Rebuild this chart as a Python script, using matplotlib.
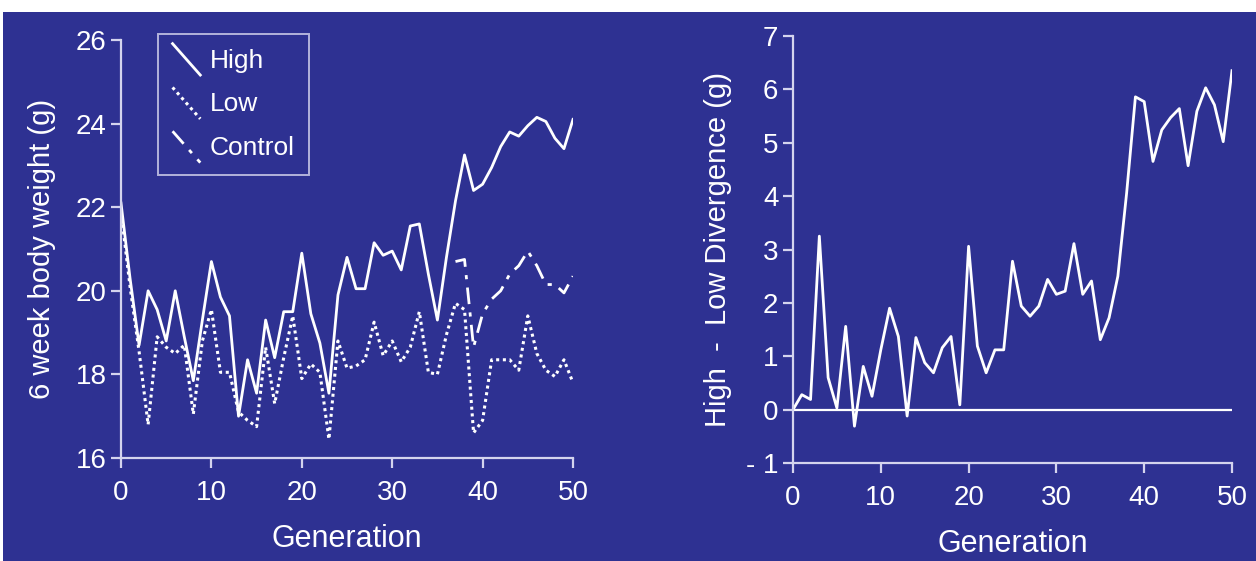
import numpy as np
import matplotlib
matplotlib.use('Agg')
import matplotlib.pyplot as plt
from matplotlib.legend_handler import HandlerBase
from matplotlib.lines import Line2D
from matplotlib.patches import Rectangle

plt.rcParams['font.family'] = ['Liberation Sans', 'DejaVu Sans']

# data
gen = list(range(51))
high = [22.1, 20.3, 18.7, 20.0, 19.55, 18.8, 20.0, 18.9, 17.85, 19.3,
        20.7, 19.85, 19.4, 17.0, 18.35, 17.55, 19.3, 18.4, 19.5, 19.5,
        20.9, 19.45, 18.75, 17.55, 19.9, 20.8, 20.05, 20.05, 21.15, 20.85,
        20.95, 20.5, 21.55, 21.6, 20.4, 19.3, 20.8, 22.15, 23.25, 22.4,
        22.55, 22.95, 23.45, 23.8, 23.7, 23.95, 24.15, 24.05, 23.65, 23.4,
        24.1]
low = [21.9, 20.1, 18.55, 16.8, 18.9, 18.65, 18.5, 18.7, 17.05, 18.8,
       19.55, 18.05, 18.05, 17.1, 16.9, 16.75, 18.65, 17.3, 18.4, 19.4,
       17.9, 18.25, 18.05, 16.45, 18.8, 18.15, 18.2, 18.35, 19.25, 18.45,
       18.8, 18.3, 18.65, 19.5, 18.05, 18.0, 18.95, 19.7, 19.55, 16.6,
       16.9, 18.35, 18.35, 18.35, 18.1, 19.4, 18.5, 18.1, 17.95, 18.35,
       17.8]
ctrl_gen = list(range(37, 51))
control = [20.7, 20.75, 18.65, 19.45, 19.8, 20.0, 20.4, 20.6, 20.95, 20.6,
           20.15, 20.15, 19.95, 20.35]
divergence = [0.0, 0.28, 0.19, 3.25, 0.6, 0.03, 1.56, -0.31, 0.81, 0.25,
              1.12, 1.9, 1.37, -0.12, 1.35, 0.88, 0.69, 1.16, 1.37, 0.09,
              3.06, 1.19, 0.69, 1.12, 1.12, 2.78, 1.94, 1.75, 1.94, 2.44,
              2.16, 2.22, 3.11, 2.16, 2.41, 1.31, 1.72, 2.5, 4.06, 5.86,
              5.77, 4.65, 5.24, 5.47, 5.64, 4.57, 5.59, 6.03, 5.71, 5.02,
              6.35]
left_yticks = [16, 18, 20, 22, 24, 26]
right_yticks = [-1, 0, 1, 2, 3, 4, 5, 6, 7]
right_ylabels = ['- 1', '0', '1', '2', '3', '4', '5', '6', '7']
xticks = [0, 10, 20, 30, 40, 50]

navy = '#2e3192'
spine = '#d4d4ee'


class DiagHandler(HandlerBase):
    # legend key drawn as a short diagonal stroke
    def create_artists(self, legend, orig, xd, yd, w, h, fontsize, trans):
        ln = Line2D([0, 1], [0, 1])
        ln.update_from(orig)
        ln.set_data([xd, xd + w], [yd + h * 1.3, yd - h * 0.4])
        ln.set_transform(trans)
        return [ln]


fig = plt.figure(figsize=(12.56, 5.61), dpi=100, facecolor='white')
fig.patches.append(Rectangle((3 / 1256, 0), 1, (561 - 12) / 561,
                             transform=fig.transFigure, facecolor=navy,
                             edgecolor='none', zorder=-10))

ax1 = fig.add_axes([121 / 1256, 103 / 561, 452 / 1256, 418 / 561])
ax2 = fig.add_axes([793 / 1256, 98 / 561, 439 / 1256, 427 / 561])

for ax in (ax1, ax2):
    ax.set_facecolor(navy)
    ax.patch.set_alpha(0)
    for s in ('top', 'right'):
        ax.spines[s].set_visible(False)
    for s in ('left', 'bottom'):
        ax.spines[s].set_color(spine)
        ax.spines[s].set_linewidth(1.6)
    ax.tick_params(colors=spine, labelcolor='white', labelsize=20,
                   length=7, width=1.6, direction='out')
    ax.tick_params(axis='x', pad=9)
    ax.set_xlim(0, 50)
    ax.set_xticks(xticks)
    ax.set_xlabel('Generation', color='white', fontsize=22, labelpad=13)

ax1.plot(gen, high, color='white', lw=2, label='High')
ax1.plot(gen, low, color='white', lw=2.2, linestyle=(0, (1, 1.2)), label='Low')
ax1.plot(ctrl_gen, control, color='white', lw=2,
         linestyle=(0, (6, 3, 1.5, 3)), label='Control')
ax1.set_ylim(16, 26)
ax1.set_yticks(left_yticks)
ax1.set_ylabel('6 week body weight (g)', color='white', fontsize=21, labelpad=14)
leg = ax1.legend(loc='upper left', bbox_to_anchor=(0.082, 1.014),
                 borderaxespad=0, fontsize=19, frameon=True, fancybox=False,
                 handler_map={Line2D: DiagHandler()}, handlelength=1.05,
                 handletextpad=0.35, labelspacing=0.75, borderpad=0.55)
leg.get_frame().set_facecolor(navy)
leg.get_frame().set_edgecolor(spine)
leg.get_frame().set_linewidth(1.4)
for t in leg.get_texts():
    t.set_color('white')

ax2.plot(gen, divergence, color='white', lw=2)
ax2.axhline(0, xmin=0, xmax=1, color='white', lw=1.6)
ax2.set_ylim(-1, 7)
ax2.set_yticks(right_yticks)
ax2.set_yticklabels(right_ylabels)
ax2.set_ylabel('High  -  Low Divergence (g)', color='white', fontsize=21,
               labelpad=10)

fig.savefig('out.png', dpi=100, facecolor=fig.get_facecolor())
